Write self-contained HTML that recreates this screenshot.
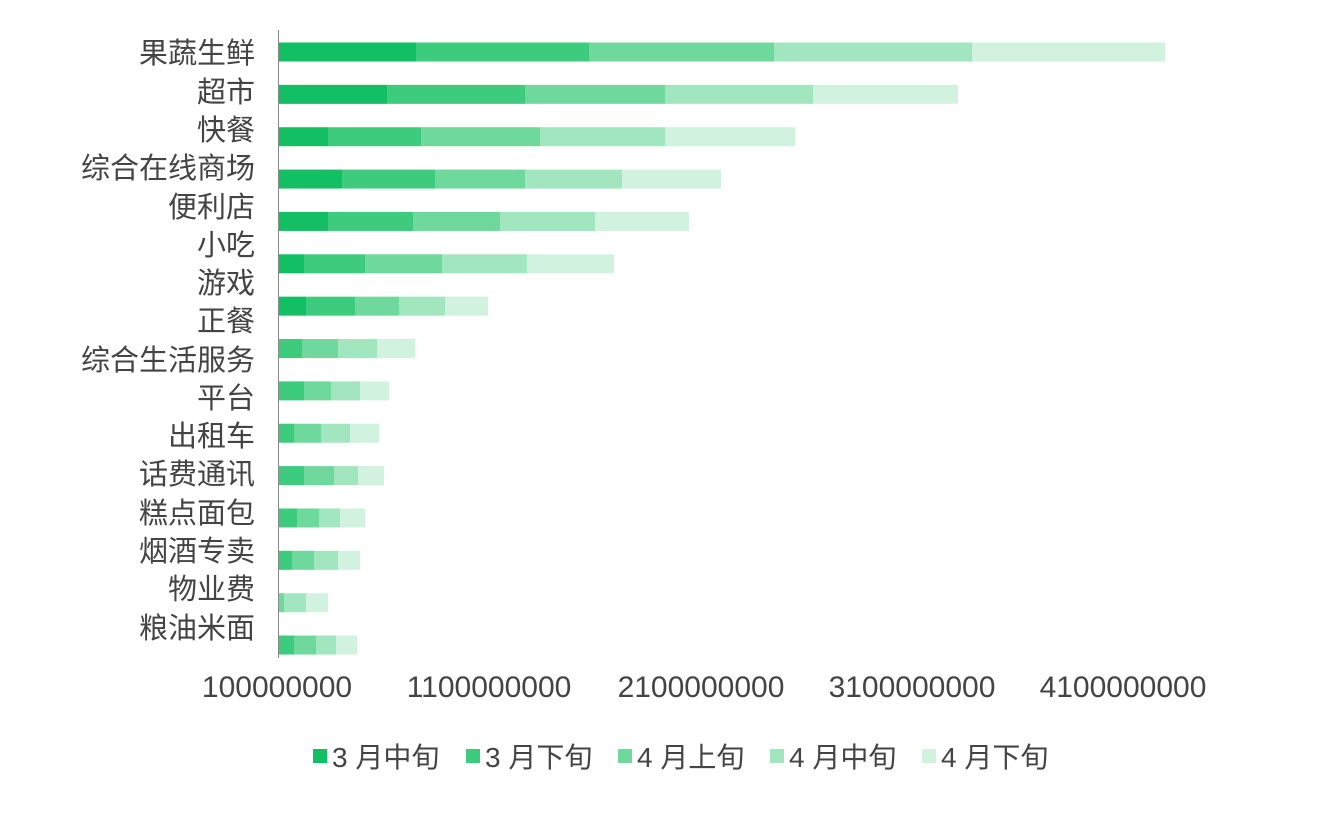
<!DOCTYPE html>
<html><head><meta charset="utf-8"><style>
body{margin:0;background:#fff;}
svg text{font-family:"Liberation Sans","Noto Sans CJK SC",sans-serif;fill:#444;}
</style></head><body>
<svg width="1318" height="815" xmlns="http://www.w3.org/2000/svg">
<line x1="278.5" y1="30" x2="278.5" y2="658" stroke="#888" stroke-width="1"/>
<g id="bars"></g>
<g font-size="29" text-anchor="end">
<text x="255" y="63">果蔬生鲜</text>
<text x="255" y="102">超市</text>
<text x="255" y="140">快餐</text>
<text x="255" y="178">综合在线商场</text>
<text x="255" y="217">便利店</text>
<text x="255" y="255">小吃</text>
<text x="255" y="293">游戏</text>
<text x="255" y="331">正餐</text>
<text x="255" y="370">综合生活服务</text>
<text x="255" y="408">平台</text>
<text x="255" y="446">出租车</text>
<text x="255" y="484">话费通讯</text>
<text x="255" y="523">糕点面包</text>
<text x="255" y="561">烟酒专卖</text>
<text x="255" y="599">物业费</text>
<text x="255" y="638">粮油米面</text>
</g>
<g font-size="30" text-anchor="middle">
<text x="277" y="697">100000000</text>
<text x="489" y="697">1100000000</text>
<text x="701" y="697">2100000000</text>
<text x="912" y="697">3100000000</text>
<text x="1123" y="697">4100000000</text>
</g>
<g font-size="28">
<rect x="313" y="749" width="14" height="14" fill="#12c063"/><text x="332" y="767">3 月中旬</text>
<rect x="466" y="749" width="14" height="14" fill="#3dcc7e"/><text x="485" y="767">3 月下旬</text>
<rect x="618" y="749" width="14" height="14" fill="#6fd99d"/><text x="637" y="767">4 月上旬</text>
<rect x="770" y="749" width="14" height="14" fill="#a2e6bf"/><text x="789" y="767">4 月中旬</text>
<rect x="922" y="749" width="14" height="14" fill="#d2f2e0"/><text x="941" y="767">4 月下旬</text>
</g>
</svg>
<script>
var cols=["#12c063","#3dcc7e","#6fd99d","#a2e6bf","#d2f2e0"];
var data=[[0,[416,589,774,972,1165]],[0,[387,525,665,813,958]],[0,[328,421,540,665,795]],[0,[342,435,525,622,721]],[0,[328,413,500,595,689]],[0,[304,365,442,527,614]],[0,[306,355,399,445,488]],[1,[302,338,377,415]],[1,[304,331,360,389]],[1,[294,321,350,379]],[1,[304,334,358,384]],[1,[297,319,340,365]],[1,[292,314,338,360]],[2,[284,306,328]],[1,[294,316,336,357]]];
var g=document.getElementById("bars"),s="";
data.forEach(function(d,i){var cy=52+i*42.36,x=279;d[1].forEach(function(e,j){s+='<rect x="'+x+'" y="'+(cy-9.5)+'" width="'+(e-x)+'" height="19" fill="'+cols[d[0]+j]+'"/>';x=e;});});
g.innerHTML=s;
</script>
</body></html>
